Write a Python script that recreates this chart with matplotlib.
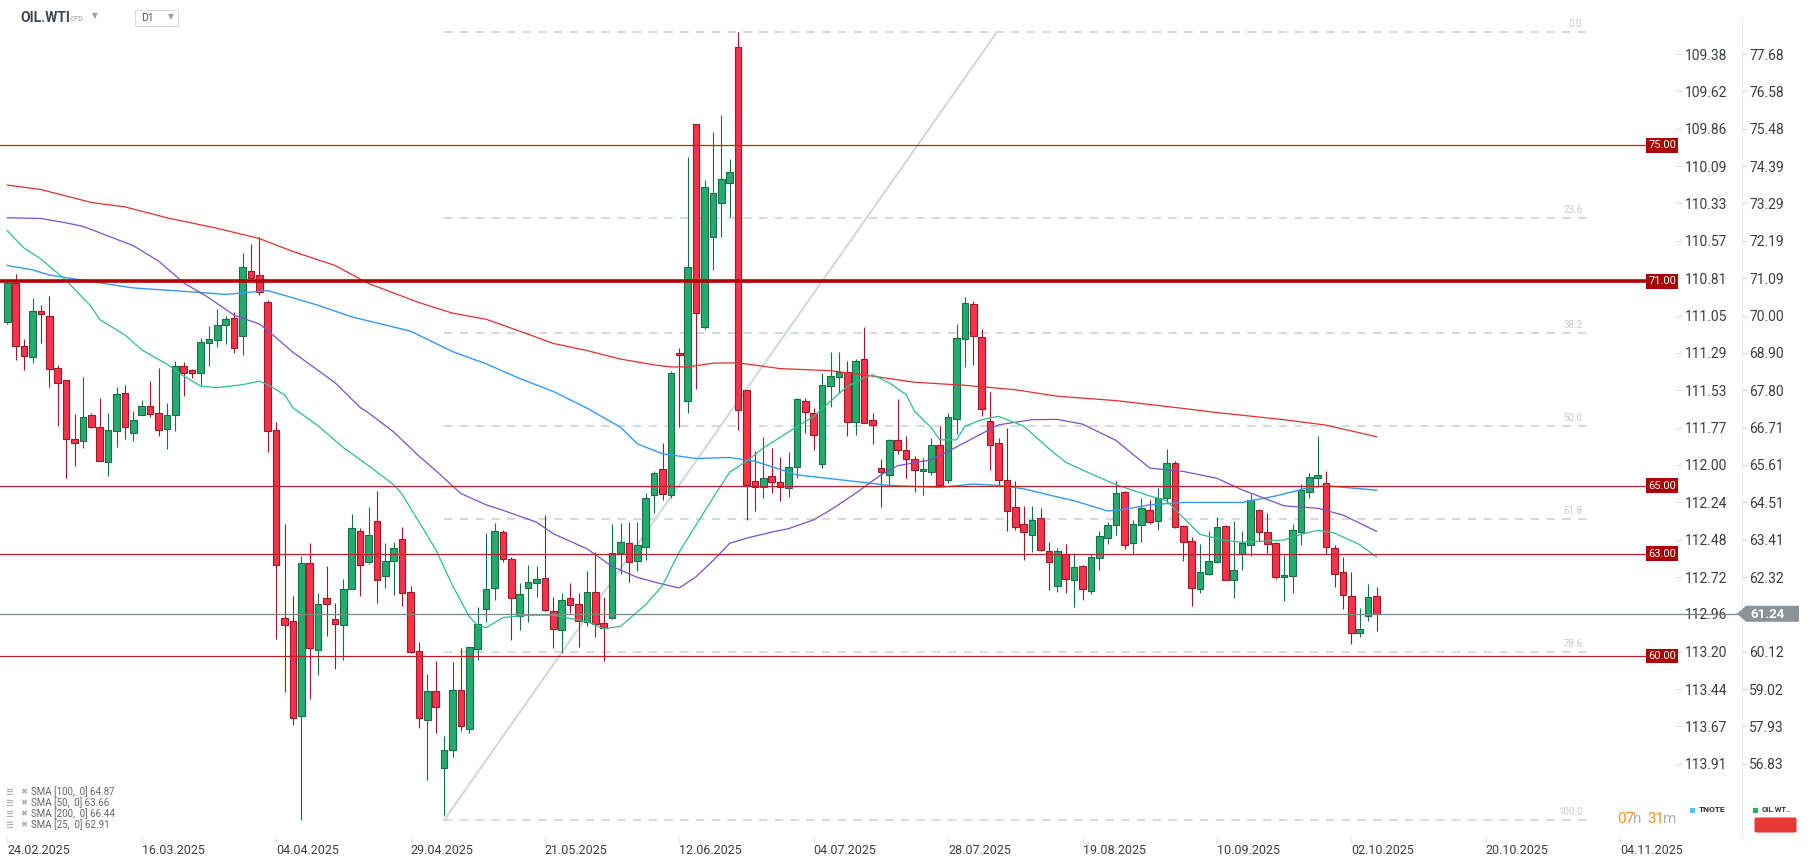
import numpy as np
import matplotlib.pyplot as plt
from matplotlib.patches import Rectangle, Polygon, FancyBboxPatch
from matplotlib.lines import Line2D
from matplotlib.transforms import blended_transform_factory

plt.rcParams['font.family'] = ['Roboto', 'DejaVu Sans']

# daily OHLC, OIL.WTI
opens = [
    69.81, 70.94, 69.11, 68.79, 70.13, 69.99, 68.46, 68.11, 66.37, 66.30,
    67.09, 66.74, 65.71, 66.61, 67.72, 66.54, 67.09, 67.34, 67.14, 66.67,
    67.09, 68.53, 68.39, 68.31, 69.20, 69.27, 69.71, 69.92, 69.39, 71.32,
    71.19, 70.41, 66.64, 61.12, 61.03, 58.24, 62.73, 60.18, 61.71, 61.10,
    60.92, 61.97, 63.67, 62.75, 63.97, 62.34, 62.79, 63.44, 61.89, 60.14,
    58.13, 58.97, 56.70, 57.23, 59.00, 57.87, 60.21, 61.39, 62.01, 63.63,
    62.85, 61.17, 61.99, 62.13, 62.30, 61.32, 60.77, 61.70, 61.52, 60.99,
    61.87, 60.97, 61.13, 63.03, 63.32, 62.79, 63.21, 64.72, 65.48, 64.72,
    68.90, 67.49, 75.63, 69.65, 72.30, 73.30, 73.90, 77.90, 67.80, 65.13,
    64.95, 65.30, 65.10, 64.93, 65.54, 67.48, 67.14, 65.65, 67.92, 68.19,
    68.33, 66.86, 68.73, 66.92, 65.52, 65.32, 66.35, 66.04, 65.79, 65.42,
    65.39, 66.19, 65.16, 66.97, 69.32, 70.34, 69.36, 66.89, 66.27, 65.16,
    64.39, 63.87, 63.54, 64.05, 63.07, 62.07, 63.00, 62.24, 62.63, 61.91,
    62.87, 63.46, 63.86, 64.82, 63.31, 63.86, 64.30, 63.96, 64.63, 65.68,
    63.82, 63.37, 61.97, 62.41, 62.75, 63.82, 62.24, 63.01, 63.25, 64.29,
    63.64, 63.32, 62.31, 62.36, 63.64, 64.82, 65.24, 65.09, 63.16, 62.48,
    61.77, 60.69, 61.18, 61.77]
highs = [
    71.05, 71.22, 69.30, 70.52, 70.30, 70.58, 68.54, 68.11, 67.11, 68.20,
    67.15, 67.58, 67.14, 67.90, 67.95, 67.19, 67.52, 68.08, 68.46, 67.42,
    68.67, 68.62, 68.44, 69.33, 69.69, 70.20, 69.99, 70.09, 71.85, 72.11,
    72.30, 70.45, 66.88, 63.89, 61.76, 62.93, 63.31, 61.86, 62.65, 61.57,
    62.27, 64.17, 63.75, 64.37, 64.86, 63.31, 63.34, 63.80, 62.07, 60.41,
    59.46, 59.85, 57.66, 59.82, 60.24, 60.27, 61.44, 63.62, 63.90, 63.69,
    62.92, 62.14, 62.68, 62.63, 64.15, 61.72, 61.86, 62.14, 61.86, 62.49,
    63.06, 61.72, 63.87, 63.90, 63.94, 63.94, 64.79, 65.42, 66.27, 68.38,
    69.04, 74.65, 75.63, 73.97, 75.40, 75.90, 74.60, 78.32, 67.82, 66.01,
    66.42, 66.11, 65.83, 65.99, 67.58, 67.58, 67.28, 68.31, 68.93, 68.93,
    68.66, 68.71, 69.67, 67.14, 65.79, 66.38, 67.56, 66.45, 65.86, 65.81,
    66.40, 66.75, 67.14, 69.75, 70.55, 70.42, 69.61, 67.75, 66.40, 66.70,
    65.13, 64.42, 64.42, 64.34, 63.34, 63.17, 63.30, 63.03, 62.68, 63.00,
    63.67, 63.94, 65.13, 64.85, 63.98, 64.65, 64.58, 64.92, 66.08, 65.74,
    63.86, 63.49, 63.30, 63.67, 64.09, 63.85, 63.96, 63.67, 64.75, 64.33,
    64.21, 63.35, 62.98, 63.88, 65.05, 65.37, 66.45, 65.42, 63.25, 62.90,
    62.48, 61.40, 62.11, 62.04]
lows = [
    69.75, 68.69, 68.41, 68.60, 69.18, 67.90, 66.76, 65.23, 65.58, 66.12,
    66.70, 65.74, 65.29, 66.14, 66.37, 66.31, 67.09, 67.01, 66.47, 66.09,
    66.60, 67.65, 68.16, 67.97, 68.51, 69.08, 69.15, 68.90, 68.85, 71.09,
    70.60, 65.99, 60.51, 58.95, 57.96, 55.18, 58.75, 59.43, 60.60, 59.62,
    59.87, 61.97, 61.76, 62.70, 61.55, 62.00, 61.79, 61.48, 60.10, 57.90,
    56.37, 57.75, 55.34, 57.03, 57.80, 57.75, 59.89, 60.99, 61.65, 62.77,
    60.48, 60.76, 61.01, 61.72, 61.32, 60.24, 60.10, 61.25, 60.27, 60.87,
    60.55, 59.85, 61.08, 62.42, 62.18, 62.49, 62.82, 64.21, 64.58, 64.63,
    66.72, 67.14, 67.85, 69.61, 71.35, 72.30, 72.90, 66.65, 64.00, 64.25,
    64.64, 64.78, 64.54, 64.67, 65.23, 66.55, 66.06, 65.52, 67.31, 67.71,
    66.47, 66.50, 66.83, 66.24, 64.39, 65.03, 65.94, 65.23, 64.83, 64.74,
    65.32, 65.03, 65.08, 66.53, 68.48, 68.56, 67.06, 65.47, 65.03, 63.66,
    63.71, 62.82, 63.04, 63.07, 61.94, 61.87, 61.84, 61.45, 61.64, 61.82,
    62.53, 63.30, 63.55, 63.15, 62.98, 63.35, 63.88, 63.69, 64.48, 63.75,
    62.78, 61.48, 61.84, 62.38, 62.72, 62.24, 61.69, 62.53, 62.93, 63.37,
    63.03, 62.26, 61.62, 61.84, 63.27, 64.65, 64.95, 63.00, 62.03, 61.38,
    60.36, 60.56, 61.02, 60.73]
closes = [
    70.94, 69.11, 68.82, 70.13, 70.03, 68.44, 68.03, 66.37, 66.27, 67.02,
    66.72, 65.74, 66.64, 67.70, 66.74, 66.93, 67.34, 67.12, 66.65, 67.09,
    68.53, 68.30, 68.31, 69.23, 69.32, 69.73, 69.90, 69.05, 71.41, 71.11,
    70.68, 66.61, 62.68, 60.92, 58.18, 62.73, 60.23, 61.53, 61.54, 60.93,
    61.96, 63.76, 62.68, 63.54, 62.24, 62.78, 63.17, 61.86, 60.13, 58.18,
    58.97, 58.51, 57.23, 59.00, 57.94, 60.27, 60.94, 61.97, 63.66, 62.86,
    61.69, 61.82, 62.17, 62.27, 61.35, 60.80, 61.65, 61.51, 61.04, 61.87,
    60.93, 60.83, 63.03, 63.35, 62.75, 63.27, 64.65, 65.38, 64.75, 68.30,
    68.83, 71.42, 70.08, 73.77, 73.60, 74.00, 74.20, 67.22, 65.01, 64.95,
    65.23, 65.10, 64.95, 65.54, 67.55, 67.16, 66.48, 67.95, 68.22, 68.33,
    66.86, 68.66, 66.83, 66.77, 65.39, 66.33, 66.04, 65.79, 65.47, 65.48,
    66.19, 65.03, 67.01, 69.34, 70.37, 69.39, 67.24, 66.21, 65.18, 64.27,
    63.80, 63.63, 64.00, 63.10, 62.75, 63.07, 62.27, 62.60, 61.97, 62.90,
    63.52, 63.85, 64.79, 63.27, 63.87, 64.36, 63.94, 64.65, 65.68, 63.79,
    63.34, 62.01, 62.48, 62.78, 63.79, 62.24, 62.53, 63.32, 64.59, 63.64,
    63.30, 62.33, 62.37, 63.70, 64.88, 65.27, 65.33, 63.19, 62.42, 61.79,
    60.68, 60.78, 61.74, 61.24]

# moving averages, sampled off the chart (bar index, value)
sma200_idx = [0, 4, 10, 14, 19, 25, 30, 34, 39, 43, 46, 49, 53, 57, 61, 65, 69, 73,
              77, 79, 81, 84, 87, 92, 98, 103, 108, 114, 120, 125, 132, 140, 144,
              152, 157, 163]
sma200_val = [73.83, 73.70, 73.32, 73.19, 72.87, 72.56, 72.26, 71.88, 71.47, 70.94,
              70.66, 70.38, 70.07, 69.89, 69.54, 69.18, 68.97, 68.72, 68.55, 68.49,
              68.49, 68.60, 68.61, 68.44, 68.38, 68.22, 68.04, 67.95, 67.82, 67.63,
              67.50, 67.27, 67.15, 66.94, 66.78, 66.44]
sma100_idx = [0, 3, 5, 11, 15, 21, 26, 31, 34, 37, 41, 48, 53, 57, 61, 65, 69, 73,
              75, 78, 82, 86, 89, 94, 99, 105, 111, 115, 118, 121, 124, 127, 131,
              133, 136, 140, 147, 151, 155, 157, 163]
sma100_val = [71.47, 71.34, 71.19, 70.96, 70.81, 70.71, 70.62, 70.73, 70.52, 70.30,
              69.96, 69.54, 68.94, 68.58, 68.15, 67.77, 67.28, 66.72, 66.23, 65.94,
              65.80, 65.83, 65.72, 65.32, 65.18, 65.01, 64.95, 65.05, 65.01, 64.91,
              64.73, 64.56, 64.26, 64.31, 64.44, 64.51, 64.51, 64.70, 64.95, 65.00,
              64.87]
sma50_idx = [0, 4, 7, 9, 15, 18, 21, 24, 27, 30, 31, 34, 39, 42, 43, 46, 49, 51, 54,
             57, 59, 63, 65, 69, 72, 75, 78, 80, 82, 84, 86, 88, 91, 93, 96, 98, 101,
             104, 106, 110, 112, 116, 118, 122, 125, 128, 132, 136, 140, 144, 147,
             152, 156, 159, 163]
sma50_val = [72.87, 72.85, 72.72, 72.62, 72.05, 71.60, 70.96, 70.52, 70.01, 69.75,
             69.56, 68.92, 68.03, 67.30, 67.14, 66.58, 65.87, 65.45, 64.77, 64.44,
             64.28, 63.93, 63.59, 63.15, 62.63, 62.31, 62.11, 62.00, 62.33, 62.80,
             63.31, 63.46, 63.64, 63.74, 64.00, 64.29, 64.78, 65.32, 65.59, 65.76,
             66.01, 66.53, 66.79, 66.94, 66.95, 66.81, 66.33, 65.52, 65.42, 65.22,
             64.88, 64.41, 64.34, 64.14, 63.66]
sma25_idx = [0, 2, 4, 7, 10, 11, 14, 16, 19, 21, 23, 25, 28, 30, 31, 33, 34, 37, 40,
             43, 46, 47, 51, 53, 55, 56, 57, 59, 62, 65, 69, 71, 73, 76, 78, 80, 82,
             84, 86, 88, 90, 93, 96, 98, 100, 102, 103, 105, 107, 108, 110, 111, 113,
             114, 116, 118, 121, 124, 126, 129, 132, 136, 138, 140, 142, 145, 147,
             152, 154, 156, 158, 161, 163]
sma25_val = [72.49, 71.98, 71.66, 71.03, 70.26, 69.88, 69.43, 68.99, 68.57, 68.22,
             67.93, 67.88, 67.97, 68.07, 67.97, 67.67, 67.29, 66.76, 66.12, 65.59,
             65.03, 64.75, 63.13, 62.07, 61.15, 60.90, 60.83, 61.13, 61.20, 61.20,
             61.01, 60.80, 60.87, 61.51, 62.07, 63.06, 63.85, 64.64, 65.40, 65.72,
             66.11, 66.58, 67.04, 67.48, 67.92, 68.17, 68.26, 68.02, 67.68, 67.19,
             66.70, 66.35, 66.35, 66.75, 66.94, 67.04, 66.75, 66.09, 65.69, 65.35,
             65.03, 64.70, 64.56, 64.06, 63.57, 63.39, 63.34, 63.41, 63.57, 63.69,
             63.61, 63.27, 62.91]

levels = [75.0, 71.0, 65.0, 63.0, 60.0]
level_labels = ['75.00', '71.00', '65.00', '63.00', '60.00']
last_price = 61.24

fib_ratios = [0.0, 23.6, 38.2, 50.0, 61.8, 78.6, 100.0]
fib_high, fib_low = 78.32, 55.18
fib_start, fib_end = 52, 188
trend_x = [52, 117.8]
trend_y = [55.18, 78.32]

price_ticks = [77.68, 76.58, 75.48, 74.39, 73.29, 72.19, 71.09, 70.00, 68.90, 67.80,
               66.71, 65.61, 64.51, 63.41, 62.32, 61.24, 60.12, 59.02, 57.93, 56.83]
price_labels = ['%.2f' % v for v in price_ticks]
tnote_labels = ['109.38', '109.62', '109.86', '110.09', '110.33', '110.57', '110.81',
                '111.05', '111.29', '111.53', '111.77', '112.00', '112.24', '112.48',
                '112.72', '112.96', '113.20', '113.44', '113.67', '113.91']

date_idx = list(range(0, 193, 16))
date_labels = ['24.02.2025', '16.03.2025', '04.04.2025', '29.04.2025', '21.05.2025',
               '12.06.2025', '04.07.2025', '28.07.2025', '19.08.2025', '10.09.2025',
               '02.10.2025', '20.10.2025', '04.11.2025']

sma_legend = ['SMA [100,  0] 64.87', 'SMA [50,  0] 63.66',
              'SMA [200,  0] 66.44', 'SMA [25,  0] 62.91']

W, H = 1810, 865
def fx(x):
    return x / W
def fy(y):
    return 1 - y / H

fig = plt.figure(figsize=(W / 100, H / 100), dpi=100)
ax = fig.add_axes([0, fy(838), fx(1676), 838 / H])
ax.set_xlim(-7.33 / 8.4, (1676 - 7.33) / 8.4)
ax.set_ylim(54.655, 79.266)
for s in ax.spines.values():
    s.set_visible(False)

# second column of price labels (twinx moves ax ticks to the left, so fix after)
ax2 = ax.twinx()
ax2.set_ylim(ax.get_ylim())
for k in ['left', 'top', 'bottom']:
    ax2.spines[k].set_visible(False)
ax2.spines['right'].set_position(('axes', 1742 / 1676))
ax2.spines['right'].set_color('#ececec')
ax2.spines['right'].set_bounds(54.655, 78.75)
ax2.set_yticks(price_ticks)
ax2.set_yticklabels(price_labels)
ax2.tick_params(axis='y', length=3.6, width=0.7, color='#d6d6d6', pad=1.5,
                labelsize=10, labelcolor='#3a3f44')

# candles
i = np.arange(len(opens))
o = np.array(opens); hi = np.array(highs); lo = np.array(lows); c = np.array(closes)
up = c >= o
green, green_e = '#26ab6f', '#17704a'
red, red_e = '#f5334a', '#a3172a'
bot = np.minimum(o, c)
bh = np.maximum(np.abs(c - o), 0.06)
ax.vlines(i[up], lo[up], hi[up], color=green_e, lw=0.8, zorder=2)
ax.vlines(i[~up], lo[~up], hi[~up], color=red_e, lw=0.8, zorder=2)
ax.bar(i[up], bh[up], bottom=bot[up], width=0.78, color=green, edgecolor=green_e,
       linewidth=0.8, zorder=3)
ax.bar(i[~up], bh[~up], bottom=bot[~up], width=0.78, color=red, edgecolor=red_e,
       linewidth=0.8, zorder=3)

# moving averages
ax.plot(sma200_idx, sma200_val, color='#e2302c', lw=0.9, zorder=4)
ax.plot(sma100_idx, sma100_val, color='#3399ff', lw=1.0, zorder=4)
ax.plot(sma50_idx, sma50_val, color='#7d4fc9', lw=0.9, zorder=4)
ax.plot(sma25_idx, sma25_val, color='#2cc08a', lw=0.9, zorder=4)

# fibonacci retracement
for r in fib_ratios:
    lv = fib_high - (fib_high - fib_low) * r / 100
    ax.plot([fib_start, fib_end], [lv, lv], color='#d3dbe0', lw=1.4,
            linestyle=(0, (4.3, 3.8)), zorder=1)
    ax.text(187.5, lv + 0.08, '%.1f' % r, ha='right', va='bottom', fontsize=7,
            color='#c4cace', zorder=1)
ax.plot(trend_x, trend_y, color='#d2d8dc', lw=1.5, zorder=1.5)

# horizontal levels
for lv, lab in zip(levels, level_labels):
    lw = 2.6 if lv == 71.0 else 0.9
    col = '#b30000' if lv == 71.0 else '#c0201e'
    ax.axhline(lv, color=col, lw=lw, zorder=5)
    ax.text(1.0, lv, lab, transform=blended_transform_factory(ax.transAxes, ax.transData),
            ha='right', va='center', fontsize=8, color='white', zorder=6,
            bbox=dict(boxstyle='square,pad=0.22', fc='#aa0000', ec='none'))

# current price line and marker
bt = blended_transform_factory(fig.transFigure, ax.transData)
ax.add_line(Line2D([0, fx(1738)], [last_price, last_price], transform=bt,
                   color='#7b878c', lw=0.9, clip_on=False, zorder=7))
d = 8 / 34.05
fig.patches.append(Polygon([(fx(1737), last_price), (fx(1746), last_price + d),
                            (fx(1799), last_price + d), (fx(1799), last_price - d),
                            (fx(1746), last_price - d)], closed=True,
                           transform=bt, fc='#8a9498', ec='none'))
fig.text(fx(1750), fy(615), '%.2f' % last_price, ha='left', va='center',
         fontsize=9.5, fontweight='bold', color='white')

# TNOTE tick column on the right of the plot
ax.yaxis.set_ticks_position('right')
ax.set_yticks(price_ticks)
ax.set_yticklabels(tnote_labels)
ax.tick_params(axis='y', left=False, labelleft=False, right=True, labelright=True,
               length=4.3, width=0.7, color='#d6d6d6', pad=2.2,
               labelsize=10, labelcolor='#3a3f44')
ax.set_xticks(date_idx)
ax.set_xticklabels(date_labels, ha='left')
ax.tick_params(axis='x', length=3, width=0.6, color='#d6d6d6', pad=1.5,
               labelsize=9, labelcolor='#3a3f44')

# header
fig.text(fx(20), fy(18), 'OIL.WTI', fontsize=10, fontweight='bold', color='#3d4650',
         va='center')
fig.text(fx(70), fy(19), 'CFD', fontsize=5.5, color='#9aa0a6', va='center')
fig.text(fx(92), fy(16), '▼', fontsize=5.5, color='#9aa0a6', va='center',
         family='DejaVu Sans')
fig.patches.append(Rectangle((fx(135), fy(26)), fx(43), 16 / H, transform=fig.transFigure,
                             fc='white', ec='#dcdcdc', lw=0.8))
fig.text(fx(141), fy(18), 'D1', fontsize=7.5, color='#555555', va='center')
fig.text(fx(168), fy(17), '▼', fontsize=5.5, color='#9aa0a6', va='center',
         family='DejaVu Sans')

# SMA legend
for k, t in enumerate(sma_legend):
    yy = fy(792 + 11 * k)
    fig.text(fx(6), yy, '≡', fontsize=7, color='#b0b0b0', va='center',
             family='DejaVu Sans', fontweight='bold')
    fig.text(fx(20), yy, '✖', fontsize=6, color='#b0b0b0', va='center',
             family='DejaVu Sans')
    fig.text(fx(31), yy, t, fontsize=7, color='#666666', va='center')

# countdown
fig.text(fx(1617), fy(819), '07', fontsize=11, color='#f7931e', va='center')
fig.text(fx(1633), fy(819), 'h', fontsize=11, color='#adb3b8', va='center')
fig.text(fx(1647), fy(819), '31', fontsize=11, color='#f7931e', va='center')
fig.text(fx(1663), fy(819), 'm', fontsize=11, color='#adb3b8', va='center')

# series legend bottom right
fig.patches.append(Rectangle((fx(1690), fy(813)), fx(5), 5 / H, transform=fig.transFigure,
                             fc='#4fc3f7', ec='none'))
fig.text(fx(1699), fy(810), 'TNOTE', fontsize=6, fontweight='bold', color='#333333',
         va='center')
fig.patches.append(Rectangle((fx(1753), fy(813)), fx(5), 5 / H, transform=fig.transFigure,
                             fc='#27ae60', ec='none'))
fig.text(fx(1762), fy(810), 'OIL.WT..', fontsize=5.5, fontweight='bold', color='#333333',
         va='center')
fig.patches.append(FancyBboxPatch((fx(1757), fy(831)), fx(37), 12 / H,
                                  boxstyle='round,pad=0.001', transform=fig.transFigure,
                                  fc='#e53935', ec='#e53935', lw=1))

fig.savefig('out.png', dpi=100)
